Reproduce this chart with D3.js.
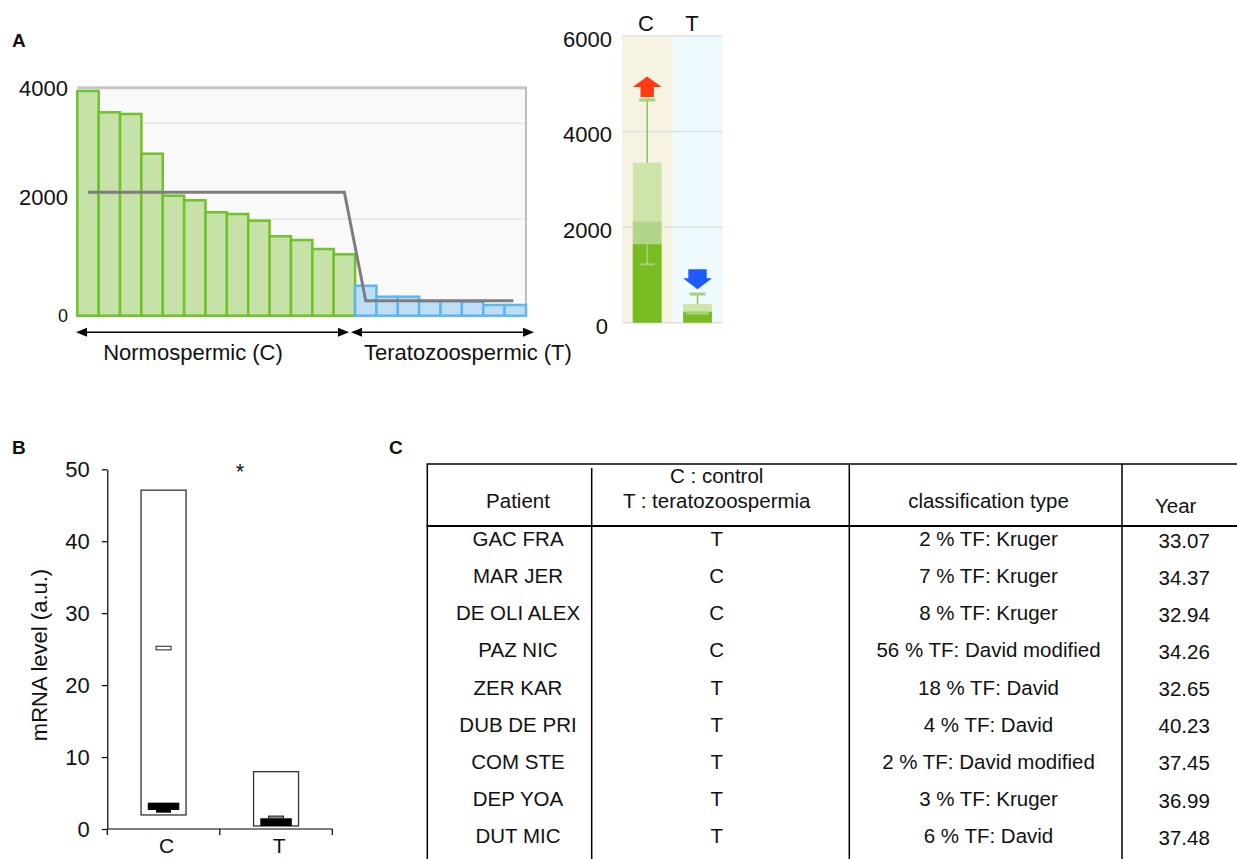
<!DOCTYPE html>
<html>
<head>
<meta charset="utf-8">
<script src="https://cdn.jsdelivr.net/npm/d3@7/dist/d3.min.js"></script>
<style>
  body { margin: 0; background: #fff; }
  svg text { font-family: "Liberation Sans", Arial, sans-serif; fill: #111; }
</style>
</head>
<body>
<svg id="fig" width="1237" height="859"></svg>
<script>
// panel A, left : per patient values
const normoValues = [3942, 3568, 3539, 2842, 2105, 2025, 1814, 1784, 1667, 1393, 1328, 1170, 1077];
const teratoValues = [526, 333, 333, 256, 256, 246, 188, 188];
const groupMeans = [2165, 263];
const aGridValues = [1696, 3375];
const aTicks = [0, 2000, 4000];

// panel A, right : C / T summary
const ctGroups = ["C", "T"];
const ctTop = [3349, 391];
const ctBand = [2114, null];
const ctBase = [1641, 230];
const ctStripe = [null, 196];
const ctHigh = [4661, 600];
const ctLow = [1222, null];
const ctTicks = [0, 2000, 4000, 6000];

// panel B : mRNA level
const mrnaGroups = ["C", "T"];
const mrnaMax = [47.1, 7.97];
const mrnaMin = [1.95, 0.42];
const mrnaBoxLo = [2.64, 0.42];
const mrnaBoxHi = [3.66, 1.49];
const mrnaTailLo = [2.27, null];
const mrnaTailHi = [2.74, null];
const mrnaMarkLo = [24.9, 1.43];
const mrnaMarkHi = [25.4, 1.8];
const mrnaTicks = [0, 10, 20, 30, 40, 50];

// panel C : table
const tableHeaders = [["Patient"], ["C : control", "T : teratozoospermia"], ["classification type"], ["Year"]];
const patients = ["GAC FRA", "MAR JER", "DE OLI ALEX", "PAZ NIC", "ZER KAR", "DUB DE PRI", "COM STE", "DEP YOA", "DUT MIC"];
const groupCodes = ["T", "C", "C", "C", "T", "T", "T", "T", "T"];
const classifications = ["2 % TF: Kruger", "7 % TF: Kruger", "8 % TF: Kruger", "56 % TF: David modified",
  "18 % TF: David", "4 % TF: David", "2 % TF: David modified", "3 % TF: Kruger", "6 % TF: David"];
const years = ["33.07", "34.37", "32.94", "34.26", "32.65", "40.23", "37.45", "36.99", "37.48"];

const svg = d3.select("#fig");

// panel letters
svg.append("text").attr("x", 12).attr("y", 47).attr("font-size", 19).attr("font-weight", "bold").text("A");
svg.append("text").attr("x", 12).attr("y", 454).attr("font-size", 19).attr("font-weight", "bold").text("B");
svg.append("text").attr("x", 389).attr("y", 454).attr("font-size", 19).attr("font-weight", "bold").text("C");

// ---------- A left ----------
const allValues = normoValues.concat(teratoValues);
const xA = d3.scaleBand().domain(d3.range(allValues.length)).range([77.3, 526]);
const yA = d3.scaleLinear().domain([0, 4000]).range([315.7, 87.7]);
const gA = svg.append("g");

gA.append("rect").attr("x", 77.3).attr("y", yA(4000)).attr("width", 526 - 77.3)
  .attr("height", yA(0) - yA(4000)).attr("fill", "#f9f9f9");
gA.selectAll(".grid").data(aGridValues).enter().append("line")
  .attr("x1", 77.3).attr("x2", 526).attr("y1", d => yA(d)).attr("y2", d => yA(d))
  .attr("stroke", "#e6e6e6").attr("stroke-width", 1.5);
gA.append("line").attr("x1", 77.3).attr("x2", 527).attr("y1", yA(4000)).attr("y2", yA(4000))
  .attr("stroke", "#c6c6c6").attr("stroke-width", 3);
gA.append("line").attr("x1", 526).attr("x2", 526).attr("y1", yA(4000)).attr("y2", yA(0))
  .attr("stroke", "#bdbdbd").attr("stroke-width", 2);

gA.selectAll(".bar").data(allValues).enter().append("rect")
  .attr("x", (d, i) => xA(i)).attr("width", xA.bandwidth())
  .attr("y", d => yA(d)).attr("height", d => yA(0) - yA(d))
  .attr("fill", (d, i) => i < normoValues.length ? "#c6e2a8" : "#bfdef6")
  .attr("stroke", (d, i) => i < normoValues.length ? "#6fc22a" : "#5db5f1")
  .attr("stroke-width", 2.5);

const nN = normoValues.length, nAll = allValues.length;
const cx = i => xA(i) + xA.bandwidth() / 2;
const meanPts = [[cx(0), groupMeans[0]], [cx(nN - 1), groupMeans[0]], [cx(nN), groupMeans[1]], [cx(nAll - 1) - 2, groupMeans[1]]];
gA.append("path").datum(meanPts)
  .attr("d", d3.line().x(d => d[0]).y(d => yA(d[1])))
  .attr("fill", "none").attr("stroke", "#7d7d7d").attr("stroke-width", 3);

gA.selectAll(".tick").data(aTicks).enter().append("text")
  .attr("x", 68).attr("y", d => yA(d) - (d === 2000 ? 5 : 0)).attr("dy", "0.36em")
  .attr("text-anchor", "end").attr("font-size", d => d === 0 ? 18 : 22).text(d => d);

// double arrows
function dblArrow(g, x1, x2, y) {
  g.append("line").attr("x1", x1 + 8).attr("x2", x2 - 8).attr("y1", y).attr("y2", y)
    .attr("stroke", "#000").attr("stroke-width", 1.5);
  g.append("path").attr("d", `M${x1},${y}L${x1 + 11},${y - 4.5}L${x1 + 11},${y + 4.5}Z`).attr("fill", "#000");
  g.append("path").attr("d", `M${x2},${y}L${x2 - 11},${y - 4.5}L${x2 - 11},${y + 4.5}Z`).attr("fill", "#000");
}
dblArrow(gA, 76, 349, 332.3);
dblArrow(gA, 351, 534, 332.3);
gA.append("text").attr("x", 193).attr("y", 360).attr("text-anchor", "middle").attr("font-size", 22).text("Normospermic (C)");
gA.append("text").attr("x", 364).attr("y", 360).attr("font-size", 22).text("Teratozoospermic (T)");

// ---------- A right ----------
const xR = d3.scaleBand().domain(ctGroups).range([622, 722.7]);
const yR = d3.scaleLinear().domain([0, 6000]).range([322.7, 36]);
const gR = svg.append("g");
const bw = xR.bandwidth(), barW = bw * 0.57;
const rc = g => xR(g) + bw / 2;

gR.selectAll(".bg").data(ctGroups).enter().append("rect")
  .attr("x", d => xR(d)).attr("width", bw).attr("y", yR(6000)).attr("height", yR(0) - yR(6000))
  .attr("fill", (d, i) => i === 0 ? "#f7f3e3" : "#eefafe");
gR.selectAll(".grid").data(ctTicks).enter().append("line")
  .attr("x1", 622).attr("x2", 722.7).attr("y1", d => yR(d)).attr("y2", d => yR(d))
  .attr("stroke", "#dfe3df").attr("stroke-width", 1.5);

ctGroups.forEach((g, i) => {
  const x0 = rc(g) - barW / 2;
  gR.append("rect").attr("x", x0).attr("width", barW).attr("y", yR(ctTop[i])).attr("height", yR(0) - yR(ctTop[i]))
    .attr("fill", "#cfe4ab");
  if (ctBand[i] !== null) {
    gR.append("rect").attr("x", x0).attr("width", barW).attr("y", yR(ctBand[i])).attr("height", yR(0) - yR(ctBand[i]))
      .attr("fill", "#b1d68a");
  }
  gR.append("rect").attr("x", x0).attr("width", barW).attr("y", yR(ctBase[i])).attr("height", yR(0) - yR(ctBase[i]))
    .attr("fill", "#78bc22");
  if (ctStripe[i] !== null) {
    gR.append("line").attr("x1", x0 + 3).attr("x2", x0 + barW - 3).attr("y1", yR(ctStripe[i])).attr("y2", yR(ctStripe[i]))
      .attr("stroke", "#a8d673").attr("stroke-width", 2.5);
  }
  // upper whisker
  gR.append("line").attr("x1", rc(g)).attr("x2", rc(g)).attr("y1", yR(ctTop[i])).attr("y2", yR(ctHigh[i]))
    .attr("stroke", "#8cc557").attr("stroke-width", 1.5);
  gR.append("line").attr("x1", rc(g) - 8).attr("x2", rc(g) + 8).attr("y1", yR(ctHigh[i])).attr("y2", yR(ctHigh[i]))
    .attr("stroke", "#a4d27a").attr("stroke-width", 3);
  if (ctLow[i] !== null) {
    gR.append("line").attr("x1", rc(g)).attr("x2", rc(g)).attr("y1", yR(ctBase[i])).attr("y2", yR(ctLow[i]))
      .attr("stroke", "#a4d27a").attr("stroke-width", 1.5);
    gR.append("line").attr("x1", rc(g) - 7.5).attr("x2", rc(g) + 7.5).attr("y1", yR(ctLow[i])).attr("y2", yR(ctLow[i]))
      .attr("stroke", "#a4d27a").attr("stroke-width", 2);
  }
});

// arrows
{
  const x = rc("C"), b = yR(ctHigh[0]) - 3;
  gR.append("path").attr("d", `M${x - 6.7},${b}L${x - 6.7},${b - 10}L${x - 14.5},${b - 10}L${x},${b - 20.6}L${x + 14.5},${b - 10}L${x + 6.7},${b - 10}L${x + 6.7},${b}Z`)
    .attr("fill", "#ff3c14");
  const xt = rc("T"), t = yR(ctHigh[1]) - 4.7;
  gR.append("path").attr("d", `M${xt - 9.2},${t - 20}L${xt - 9.2},${t - 11}L${xt - 14.5},${t - 11}L${xt},${t}L${xt + 14.5},${t - 11}L${xt + 9.2},${t - 11}L${xt + 9.2},${t - 20}Z`)
    .attr("fill", "#1d5bff");
}

gR.selectAll(".tick").data(ctTicks).enter().append("text")
  .attr("x", d => d === 0 ? 608 : 612).attr("y", d => yR(d) + 3).attr("dy", "0.36em")
  .attr("text-anchor", "end").attr("font-size", 22).text(d => d);
gR.append("text").attr("x", 646).attr("y", 31).attr("text-anchor", "middle").attr("font-size", 22).text("C");
gR.append("text").attr("x", 692).attr("y", 31).attr("text-anchor", "middle").attr("font-size", 22).text("T");

// ---------- B ----------
const xB = d3.scaleBand().domain(mrnaGroups).range([107.3, 332.3]);
const yB = d3.scaleLinear().domain([0, 50]).range([829, 469.3]);
const gB = svg.append("g");
const bb = xB.bandwidth();
const bc = g => xB(g) + bb / 2;

gB.append("g").attr("transform", "translate(107.3,0)")
  .call(d3.axisLeft(yB).tickValues(mrnaTicks).tickSize(5.5).tickSizeOuter(0).tickPadding(12))
  .call(a => a.selectAll("path,line").attr("stroke", "#000").attr("stroke-width", 1.2))
  .call(a => a.selectAll("text").attr("font-size", 22).attr("font-family", "Liberation Sans, Arial, sans-serif").attr("fill", "#111"));
gB.append("line").attr("x1", 107.3).attr("x2", 332.3).attr("y1", yB(0)).attr("y2", yB(0))
  .attr("stroke", "#000").attr("stroke-width", 1.2);
gB.selectAll(".xt").data(mrnaGroups.map(g => xB(g)).concat([xB(mrnaGroups[1]) + bb])).enter().append("line")
  .attr("x1", d => d).attr("x2", d => d).attr("y1", yB(0)).attr("y2", yB(0) + 6)
  .attr("stroke", "#000").attr("stroke-width", 1.2);
gB.selectAll(".xl").data(mrnaGroups).enter().append("text")
  .attr("x", d => bc(d) + 3).attr("y", 853).attr("text-anchor", "middle").attr("font-size", 21).text(d => d);

mrnaGroups.forEach((g, i) => {
  const w = bb * 0.4, w2 = bb * 0.28, w3 = bb * 0.133;
  gB.append("rect").attr("x", bc(g) - w / 2).attr("width", w)
    .attr("y", yB(mrnaMax[i])).attr("height", yB(mrnaMin[i]) - yB(mrnaMax[i]))
    .attr("fill", "#fff").attr("stroke", "#333").attr("stroke-width", 1.3);
  gB.append("rect").attr("x", bc(g) - w2 / 2).attr("width", w2)
    .attr("y", yB(mrnaBoxHi[i])).attr("height", yB(mrnaBoxLo[i]) - yB(mrnaBoxHi[i]))
    .attr("fill", "#000");
  if (mrnaTailLo[i] !== null) {
    gB.append("rect").attr("x", bc(g) - w3 / 2).attr("width", w3)
      .attr("y", yB(mrnaTailHi[i])).attr("height", yB(mrnaTailLo[i]) - yB(mrnaTailHi[i]))
      .attr("fill", "#000");
  }
  gB.append("rect").attr("x", bc(g) - w3 / 2).attr("width", w3)
    .attr("y", yB(mrnaMarkHi[i])).attr("height", yB(mrnaMarkLo[i]) - yB(mrnaMarkHi[i]))
    .attr("fill", i === 0 ? "#fff" : "#8a8a8a").attr("stroke", "#222").attr("stroke-width", 1);
});

gB.append("text").attr("x", 240).attr("y", 479).attr("text-anchor", "middle").attr("font-size", 22).text("*");
gB.append("text").attr("transform", "translate(46.5,655) rotate(-90)")
  .attr("text-anchor", "middle").attr("font-size", 22).text("mRNA level (a.u.)");

// ---------- C table ----------
const gC = svg.append("g");
const colEdges = [427.3, 591.7, 849.3, 1122];
const colCenters = [518, 716.7, 988.5];
const yRow = d3.scalePoint().domain(d3.range(patients.length)).range([546, 843.3]);
const fs = 20.5;

gC.append("line").attr("x1", 426.5).attr("x2", 1237).attr("y1", 464).attr("y2", 464).attr("stroke", "#000").attr("stroke-width", 1.5);
gC.append("line").attr("x1", 426.5).attr("x2", 1237).attr("y1", 526).attr("y2", 526).attr("stroke", "#000").attr("stroke-width", 2.2);
gC.selectAll(".vl").data(colEdges).enter().append("line")
  .attr("x1", d => d).attr("x2", d => d).attr("y1", (d, i) => i === 1 ? 468 : 464).attr("y2", 859)
  .attr("stroke", "#000").attr("stroke-width", 1.5);

// headers
gC.append("text").attr("x", colCenters[0]).attr("y", 508.3).attr("text-anchor", "middle").attr("font-size", fs).text(tableHeaders[0][0]);
gC.append("text").attr("x", colCenters[1]).attr("y", 483.3).attr("text-anchor", "middle").attr("font-size", fs).text(tableHeaders[1][0]);
gC.append("text").attr("x", colCenters[1]).attr("y", 508.3).attr("text-anchor", "middle").attr("font-size", fs).text(tableHeaders[1][1]);
gC.append("text").attr("x", colCenters[2]).attr("y", 508.3).attr("text-anchor", "middle").attr("font-size", fs).text(tableHeaders[2][0]);
gC.append("text").attr("x", 1155).attr("y", 513.3).attr("font-size", fs).text(tableHeaders[3][0]);

const rows = patients.map((p, i) => ({ p, g: groupCodes[i], c: classifications[i], y: years[i], i }));
const rowSel = gC.selectAll(".row").data(rows).enter().append("g");
rowSel.append("text").attr("x", colCenters[0]).attr("y", d => yRow(d.i)).attr("text-anchor", "middle").attr("font-size", fs).text(d => d.p);
rowSel.append("text").attr("x", colCenters[1]).attr("y", d => yRow(d.i)).attr("text-anchor", "middle").attr("font-size", fs).text(d => d.g);
rowSel.append("text").attr("x", colCenters[2]).attr("y", d => yRow(d.i)).attr("text-anchor", "middle").attr("font-size", fs).text(d => d.c);
rowSel.append("text").attr("x", 1158.5).attr("y", d => yRow(d.i) + 1.5).attr("font-size", fs).text(d => d.y);
</script>
</body>
</html>
